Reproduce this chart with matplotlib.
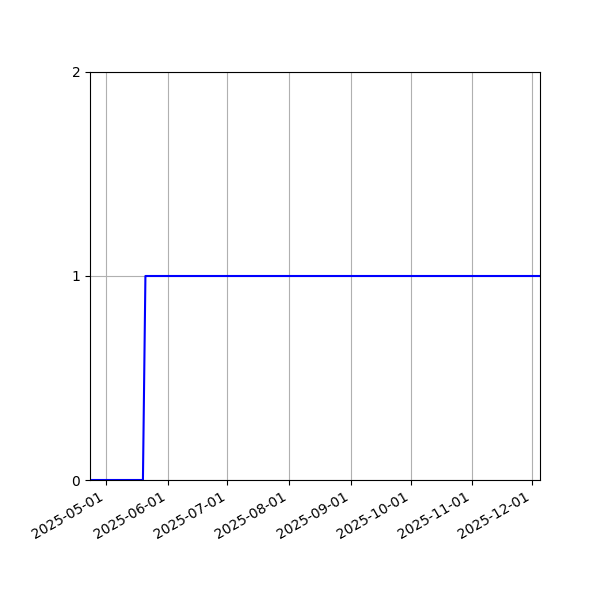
import matplotlib
matplotlib.use("Agg")
import matplotlib.pyplot as plt
import matplotlib.dates as mdates
import numpy as np

# change points of the series
dates = np.array(["2025-04-23", "2025-05-19T14:00", "2025-05-20T20:00", "2025-12-05"],
                 dtype="datetime64[m]")
values = [0, 0, 1, 1]

fig = plt.figure(figsize=(6, 6), dpi=100)
ax = fig.add_axes([0.15, 0.2, 0.75, 0.68])
ax.plot(dates, values, color="blue", linewidth=1.5)
ax.set_xlim(dates[0], dates[-1])
ax.set_ylim(0, 2)
ax.set_yticks([0, 1, 2])
ax.xaxis.set_major_locator(mdates.MonthLocator())
ax.xaxis.set_major_formatter(mdates.DateFormatter("%Y-%m-%d"))
ax.grid(True)
for lbl in ax.get_xticklabels():
    lbl.set_rotation(30)
    lbl.set_ha("right")

fig.savefig("out.png", dpi=100)
